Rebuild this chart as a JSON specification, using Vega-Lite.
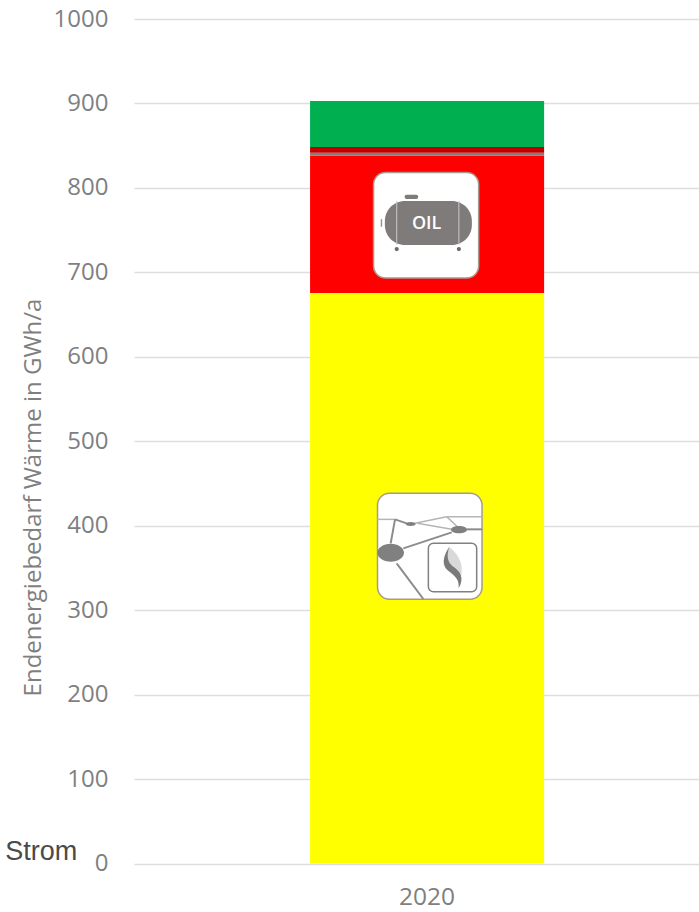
{
"$schema":"https://vega.github.io/schema/vega-lite/v6.json",
"width":565,"height":844.5,
"autosize":"none",
"padding":{"left":134,"top":19,"right":0,"bottom":48.5},
"background":"white",
"config":{"view":{"stroke":null},"font":"Open Sans"},
"resolve":{"scale":{"x":"independent"},"axis":{"x":"independent","y":"independent"}},
"layer":[
{"data":{"values":[
{"jahr":"2020","traeger":"Erdgas","ord":1,"gwh":675.5},
{"jahr":"2020","traeger":"Heizöl","ord":2,"gwh":163},
{"jahr":"2020","traeger":"Flüssiggas","ord":3,"gwh":3},
{"jahr":"2020","traeger":"Kohle","ord":4,"gwh":7},
{"jahr":"2020","traeger":"Erneuerbare","ord":5,"gwh":54.5}
]},
"mark":{"type":"bar"},
"encoding":{
"x":{"field":"jahr","type":"nominal","scale":{"paddingInner":0,"paddingOuter":0.707,"align":0.532},
"axis":{"title":null,"labelAngle":0,"labelFontSize":24.5,"labelColor":"#7f7f7f","labelPadding":22,"domain":false,"ticks":false,"grid":false}},
"y":{"field":"gwh","type":"quantitative","stack":"zero","scale":{"domain":[0,1000]},
"axis":{"title":"Endenergiebedarf Wärme in GWh/a","titleFontSize":24,"titleFontWeight":"normal","titleColor":"#7f7f7f","titleX":-101,"titleY":478,"titleAlign":"center","titleBaseline":"middle","format":"d","values":[0,100,200,300,400,500,600,700,800,900,1000],"labelFontSize":24,"labelColor":"#7f7f7f","labelPadding":26,"domain":false,"ticks":false,"grid":true,"gridColor":"#dedede","gridWidth":1.5}},
"color":{"field":"traeger","type":"nominal","legend":null,"scale":{"domain":["Erdgas","Heizöl","Flüssiggas","Kohle","Erneuerbare"],"range":["#ffff00","#ff0000","#7f7f7f","#c00000","#00b050"]}},
"order":{"field":"ord"}
}},
{"layer":[
{"data":{"values":[{"u":42.4,"u2":61.0,"v":818.2,"v2":693.3},{"u":43.1,"u2":61.6,"v":438.4,"v2":312.9}]},
"mark":{"type":"rect","fill":"white","stroke":"#a89a90","strokeWidth":1.5,"cornerRadius":12},
"encoding":{"x":{"field":"u","type":"quantitative","scale":{"domain":[0,100]},"axis":null},"x2":{"field":"u2"},"y":{"field":"v","type":"quantitative","axis":null},"y2":{"field":"v2"}}},
{"data":{"values":[{"u":44.4,"u2":59.8,"v":784.5,"v2":732.4}]},
"mark":{"type":"rect","fill":"#7f7b7b","cornerRadius":20},
"encoding":{"x":{"field":"u","type":"quantitative","axis":null},"x2":{"field":"u2"},"y":{"field":"v","type":"quantitative","axis":null},"y2":{"field":"v2"}}},
{"data":{"values":[{"u":47.9,"u2":50.3,"v":792,"v2":787}]},
"mark":{"type":"rect","fill":"#7f7b7b","cornerRadius":2},
"encoding":{"x":{"field":"u","type":"quantitative","axis":null},"x2":{"field":"u2"},"y":{"field":"v","type":"quantitative","axis":null},"y2":{"field":"v2"}}},
{"data":{"values":[{"u":46.5,"u2":46.5,"v":784.5,"v2":732.4},{"u":57.5,"u2":57.5,"v":784.5,"v2":732.4}]},
"mark":{"type":"rule","stroke":"#c8c8c8","strokeWidth":1},
"encoding":{"x":{"field":"u","type":"quantitative","axis":null},"x2":{"field":"u2"},"y":{"field":"v","type":"quantitative","axis":null},"y2":{"field":"v2"}}},
{"data":{"values":[{"u":43.8,"u2":43.8,"v":763,"v2":754}]},
"mark":{"type":"rule","stroke":"#8f98a0","strokeWidth":1.5},
"encoding":{"x":{"field":"u","type":"quantitative","axis":null},"x2":{"field":"u2"},"y":{"field":"v","type":"quantitative","axis":null},"y2":{"field":"v2"}}},
{"data":{"values":[{"u":46.5,"v":727.6},{"u":57.5,"v":727.6}]},
"mark":{"type":"point","filled":true,"opacity":1,"color":"#6f6b6b","size":18},
"encoding":{"x":{"field":"u","type":"quantitative","axis":null},"y":{"field":"v","type":"quantitative","axis":null}}},
{"data":{"values":[{"u":51.8,"v":757,"t":"OIL"}]},
"mark":{"type":"text","color":"white","fontSize":18,"fontWeight":600,"font":"Open Sans"},
"encoding":{"x":{"field":"u","type":"quantitative","axis":null},"y":{"field":"v","type":"quantitative","axis":null},"text":{"field":"t"}}},
{"data":{"values":[
{"u":43.07,"u2":46.2,"v":407.5,"v2":407.5},
{"u":55.34,"u2":61.65,"v":410.7,"v2":410.7},
{"u":49.74,"u2":55.34,"v":402.8,"v2":410.7},
{"u":50.15,"u2":56.23,"v":402.8,"v2":395.7},
{"u":55.34,"u2":57.52,"v":410.7,"v2":396.9}
]},
"mark":{"type":"rule","stroke":"#b5b5b5","strokeWidth":1.5},
"encoding":{"x":{"field":"u","type":"quantitative","axis":null},"x2":{"field":"u2"},"y":{"field":"v","type":"quantitative","axis":null},"y2":{"field":"v2"}}},
{"data":{"values":[
{"u":46.2,"u2":45.43,"v":407.5,"v2":379.1},
{"u":46.2,"u2":48.26,"v":407.5,"v2":402.8},
{"u":58.88,"u2":61.65,"v":395.7,"v2":395.7},
{"u":47.67,"u2":56.23,"v":373.2,"v2":392.1},
{"u":46.49,"u2":51.21,"v":355.4,"v2":313.2}
]},
"mark":{"type":"rule","stroke":"#8c8c8c","strokeWidth":2},
"encoding":{"x":{"field":"u","type":"quantitative","axis":null},"x2":{"field":"u2"},"y":{"field":"v","type":"quantitative","axis":null},"y2":{"field":"v2"}}},
{"data":{"values":[{"u":45.43,"v":368.1}]},
"mark":{"type":"point","filled":true,"opacity":1,"color":"#808080","size":4,"shape":"M-13.3 0A13.3 9 0 1 0 13.3 0A13.3 9 0 1 0 -13.3 0Z"},
"encoding":{"x":{"field":"u","type":"quantitative","axis":null},"y":{"field":"v","type":"quantitative","axis":null}}},
{"data":{"values":[{"u":57.52,"v":395.3}]},
"mark":{"type":"point","filled":true,"opacity":1,"color":"#808080","size":4,"shape":"M-8 0A8 3.6 0 1 0 8 0A8 3.6 0 1 0 -8 0Z"},
"encoding":{"x":{"field":"u","type":"quantitative","axis":null},"y":{"field":"v","type":"quantitative","axis":null}}},
{"data":{"values":[{"u":48.97,"v":402.0}]},
"mark":{"type":"point","filled":true,"opacity":1,"color":"#808080","size":4,"shape":"M-5 0A5 2 0 1 0 5 0A5 2 0 1 0 -5 0Z"},
"encoding":{"x":{"field":"u","type":"quantitative","axis":null},"y":{"field":"v","type":"quantitative","axis":null}}},
{"data":{"values":[{"u":52.1,"u2":60.65,"v":379.1,"v2":321.9}]},
"mark":{"type":"rect","fill":"white","stroke":"#808080","strokeWidth":1.5,"cornerRadius":5},
"encoding":{"x":{"field":"u","type":"quantitative","axis":null},"x2":{"field":"u2"},"y":{"field":"v","type":"quantitative","axis":null},"y2":{"field":"v2"}}},
{"data":{"values":[{"u":56.4,"v":349.5}]},
"mark":{"type":"point","filled":true,"opacity":1,"color":"#d9d9d9","size":4,"shape":"M-3 -21C5 -15 10 -5 9 2C9 8 7 14 6 20C7 12 3 8 -3 0C-7 -8 -6 -15 -3 -21Z"},
"encoding":{"x":{"field":"u","type":"quantitative","axis":null},"y":{"field":"v","type":"quantitative","axis":null}}},
{"data":{"values":[{"u":56.4,"v":349.5}]},
"mark":{"type":"point","filled":true,"opacity":1,"color":"#7a7a7a","size":4,"shape":"M-3 -22C-10 -12 -11 -3 -5 2C3 8 7 12 6 20C12 10 8 3 0 -2C-6 -7 -6 -14 -3 -22Z"},
"encoding":{"x":{"field":"u","type":"quantitative","axis":null},"y":{"field":"v","type":"quantitative","axis":null}}},
{"data":{"values":[{"u":-22.8,"v":4.1,"t":"Strom"}]},
"mark":{"type":"text","color":"#4a4a4a","fontSize":27,"font":"Liberation Sans","align":"left","baseline":"alphabetic","clip":false},
"encoding":{"x":{"field":"u","type":"quantitative","axis":null},"y":{"field":"v","type":"quantitative","axis":null},"text":{"field":"t"}}}
]}
]
}
